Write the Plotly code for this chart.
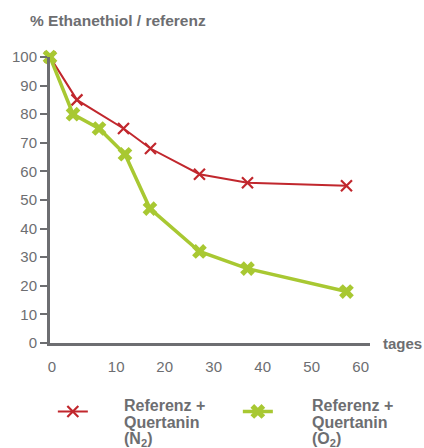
import plotly.graph_objects as go

# Data
days_n2 = [0, 5.5, 15, 20.5, 30.5, 40.3, 60.5]
vals_n2 = [100, 85, 75, 68, 59, 56, 55]
days_o2 = [0, 4.7, 10, 15.3, 20.4, 30.5, 40.3, 60.5]
vals_o2 = [100, 80, 75, 66, 47, 32, 26, 18]
x_tick_labels = ["0", "10", "20", "30", "40", "50", "60"]
x_tick_pos = [0.4, 13.5, 23.4, 33.4, 43.4, 53.4, 63.4]
y_ticks = list(range(0, 101, 10))
legend_n2 = ["Referenz +", "Quertanin", "(N<sub>2</sub>)"]
legend_o2 = ["Referenz +", "Quertanin", "(O<sub>2</sub>)"]

GRAY = "#6d6e71"
RED = "#c1272d"
GREEN = "#a8c832"
FONT = "Liberation Sans, Arial, sans-serif"

fig = go.Figure()
fig.add_trace(go.Scatter(
    x=days_n2, y=vals_n2, mode="lines+markers", name=" ",
    line=dict(color=RED, width=2),
    marker=dict(symbol="x-thin-open", size=11, line=dict(color=RED, width=2.2)),
    cliponaxis=False,
))
fig.add_trace(go.Scatter(
    x=days_o2, y=vals_o2, mode="lines+markers", name=" ",
    line=dict(color=GREEN, width=3.5),
    marker=dict(symbol="x", size=13, color=GREEN),
    cliponaxis=False,
))

annotations = [
    dict(text="<b>% Ethanethiol / referenz</b>", xref="paper", yref="paper",
         x=0, y=1.0, xshift=-22, yshift=37, xanchor="left", yanchor="middle",
         showarrow=False, font=dict(size=15.5, color=GRAY)),
    dict(text="<b>tages</b>", xref="paper", yref="paper",
         x=1.0, y=0, xshift=11, xanchor="left", yanchor="middle",
         showarrow=False, font=dict(size=15, color=GRAY)),
]
# legend texts, written line by line next to the legend symbols
for lines, xpos in ((legend_n2, 0.225), (legend_o2, 0.8125)):
    for i, line in enumerate(lines):
        annotations.append(dict(
            text="<b>" + line + "</b>", xref="paper", yref="paper",
            x=xpos, y=0, yshift=-52 - 16.5 * i, xanchor="left", yanchor="top",
            showarrow=False, font=dict(size=16, color=GRAY),
        ))

fig.update_layout(
    width=424, height=448,
    margin=dict(l=50, r=54, t=57, b=105, autoexpand=False),
    paper_bgcolor="white", plot_bgcolor="white",
    font=dict(family=FONT, color=GRAY, size=15),
    showlegend=True,
    legend=dict(
        orientation="h",
        x=-0.0005, y=-0.171, xanchor="left", yanchor="top",
        entrywidth=0.5, entrywidthmode="fraction",
        borderwidth=3, bordercolor="rgba(255,255,255,0)",
        font=dict(size=15.5, color=GRAY, family=FONT),
        valign="middle", tracegroupgap=0,
    ),
    xaxis=dict(
        range=[0, 65.3], showgrid=False, zeroline=False, automargin=False,
        showline=True, linecolor=GRAY, linewidth=3,
        tickvals=x_tick_pos, ticktext=x_tick_labels, ticks="",
        tickfont=dict(size=15, color=GRAY),
        ticklabelstandoff=8,
    ),
    yaxis=dict(
        range=[0, 100], showgrid=False, zeroline=False, automargin=False,
        showline=True, linecolor=GRAY, linewidth=3,
        tickvals=y_ticks, ticks="outside", ticklen=7, tickwidth=2, tickcolor=GRAY,
        tickfont=dict(size=15, color=GRAY),
    ),
    annotations=annotations,
)

fig.write_html(
    "out.html",
    config={"displayModeBar": False},
    post_script="document.body.style.margin='0';document.body.style.overflow='hidden';",
)
